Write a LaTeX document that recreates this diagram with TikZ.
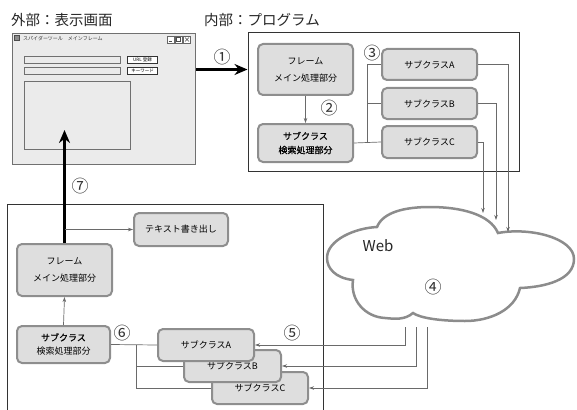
\documentclass[tikz,border=0pt]{standalone}
\usepackage{fontspec}
\setmainfont{Noto Sans CJK JP}
\newfontfamily\jpbold[FakeBold=0.6]{Noto Sans CJK JP}
\usetikzlibrary{arrows.meta}
\definecolor{nodefill}{HTML}{DEDEDE}
\definecolor{nodeedge}{HTML}{8E8E8E}
\definecolor{linegray}{HTML}{6A6A6A}
\definecolor{winfill}{HTML}{EBEBEB}
\definecolor{winedge}{HTML}{707070}
\begin{document}
\begin{tikzpicture}[x=1pt,y=-1pt,
 box/.style={draw=nodeedge, line width=2pt, fill=nodefill, rounded corners=5pt,
   font=\fontsize{9}{11}\selectfont, align=center, inner sep=0pt},
 conn/.style={draw=linegray, line width=0.7pt},
 arr/.style={conn, -{Stealth[length=5pt,width=3.5pt]}},
 big/.style={line width=3pt, draw=black, -{Stealth[length=13pt,width=11pt]}},
 num/.style={font=\fontsize{17}{17}\selectfont, inner sep=0pt, text=black!80},
 ttl/.style={font=\fontsize{14.5}{15}\selectfont, inner sep=0pt, anchor=west, text=black!85},
 fld/.style={draw=winedge, line width=0.7pt, fill=winfill, inner sep=0pt},
 btn/.style={draw=black!80, line width=0.8pt, fill=white, inner sep=0pt, font=\fontsize{4.5}{5}\selectfont},
]
\useasboundingbox (0,0) rectangle (577,409);

% titles
\node[ttl] (tOut) at (11,20) {外部：表示画面};
\node[ttl] (tIn) at (204,20) {内部：プログラム};

% window
\node[draw=winedge, line width=1.5pt, fill=winfill, minimum width=183pt, minimum height=131pt, inner sep=0pt] (win) at (104,99) {};
\node[draw=black!70, fill=black!45, minimum width=5pt, minimum height=5pt, inner sep=0pt] (wicon) at (17,38) {};
\node[font=\fontsize{5}{5}\selectfont, anchor=west, inner sep=0pt, text=black!80] (wtitle) at (23,38.5) {スパイダーツール　メインフレーム};
\node[draw=black!60, fill=white, minimum width=7pt, minimum height=7pt, inner sep=0pt] (bmin) at (170.5,39.5) {};
\node[draw=black!60, fill=white, minimum width=7pt, minimum height=7pt, inner sep=0pt] (bmax) at (178.5,39.5) {};
\node[draw=black!60, fill=white, minimum width=7pt, minimum height=7pt, inner sep=0pt] (bcls) at (187,39.5) {};
\draw[black!70, line width=0.6pt] ([xshift=-2pt,yshift=-2pt]bmin.center) -- ([xshift=1pt,yshift=-2pt]bmin.center);
\draw[black!70, line width=0.5pt] ([xshift=-2pt,yshift=-2pt]bmax.center) rectangle ([xshift=2pt,yshift=2pt]bmax.center);
\draw[black!70, line width=0.5pt] ([xshift=-2pt,yshift=-2pt]bcls.center) -- ([xshift=2pt,yshift=2pt]bcls.center)
  ([xshift=-2pt,yshift=2pt]bcls.center) -- ([xshift=2pt,yshift=-2pt]bcls.center);
\node[fld, minimum width=96pt, minimum height=6.5pt] (f1) at (72,60) {};
\node[fld, minimum width=96pt, minimum height=6.5pt] (f2) at (72,71) {};
\node[btn, minimum width=30pt, minimum height=7.5pt] (b1) at (142.5,60) {URL 登録};
\node[btn, minimum width=30pt, minimum height=7.5pt] (b2) at (142.5,71) {キーワード};
\node[fld, minimum width=106pt, minimum height=68pt] (lst) at (77,115) {};

% program box
\node[draw=black!80, line width=1pt, minimum width=271pt, minimum height=138pt, inner sep=0pt] (prog) at (383.5,102) {};

\node[box, minimum width=95pt, minimum height=51pt] (frameTop) at (305.5,69.5) {フレーム\\[6pt]メイン処理部分};
\node[box, minimum width=95pt, minimum height=38pt] (searchTop) at (305.5,143) {\jpbold サブクラス\\[3pt]\jpbold 検索処理部分};
\node[box, minimum width=95pt, minimum height=31pt] (subA) at (429.5,64.5) {サブクラスA};
\node[box, minimum width=95pt, minimum height=31pt] (subB) at (429.5,103.5) {サブクラスB};
\node[box, minimum width=95pt, minimum height=32pt] (subC) at (429.5,142) {サブクラスC};

\draw[big] (win.east |- frameTop) -- (prog.west |- frameTop);
\node[num] (n1) at (222,57) {①};

\draw[arr] (frameTop.south) -- (searchTop.north);
\node[num] (n2) at (329,108) {②};
\node[num] (n3) at (372,53) {③};

\coordinate (jt) at (367,143);
\draw[conn] (searchTop.east) -- (subC.west);
\draw[conn] (jt) |- (subA.west);
\draw[conn] (jt |- subB) -- (subB.west);

% cloud
\draw[draw=black!45, line width=2.5pt, fill=white]
 (377,227) .. controls (383,212) and (405,207) .. (430,207)
 .. controls (460,207) and (490,214) .. (498,233)
 .. controls (530,227) and (574,238) .. (574,259)
 .. controls (574,280) and (545,287) .. (520,288)
 .. controls (515,310) and (490,321) .. (465,321)
 .. controls (440,321) and (420,318) .. (413,313)
 .. controls (405,320) and (395,319) .. (385,318)
 .. controls (365,317) and (350,300) .. (353,280)
 .. controls (335,278) and (327,268) .. (327,258)
 .. controls (327,240) and (355,228) .. (377,227) -- cycle;
\node[font=\fontsize{15}{15}\selectfont, inner sep=0pt, text=black!85] (web) at (378,246) {Web};
\node[num] (n4) at (433,287) {④};

\coordinate (wa) at (508,232);
\coordinate (wb) at (496,220);
\coordinate (wc) at (483,213);
\draw[arr] (subA.east) -| (wa);
\draw[arr] (subB.east) -| (wb);
\draw[arr] (subC.east) -| (wc);

% lower box
\draw[black!80, line width=1pt] (7,410) -- (7,204) -- (323,204) -- (323,410);

\node[box, minimum width=94pt, minimum height=33pt] (textOut) at (181,229.5) {テキスト書き出し};
\node[box, minimum width=95pt, minimum height=52pt] (frameBot) at (64.5,270) {フレーム\\[6pt]メイン処理部分};
\node[box, minimum width=93pt, minimum height=37pt] (searchBot) at (63.5,344.5) {\jpbold サブクラス\\[3pt]検索処理部分};

\coordinate (w7) at (64.5,130);
\draw[big] (frameBot.north) -- (w7);
\node[num] (n7) at (80,186) {⑦};
\draw[arr] (frameBot.north |- textOut) -- (textOut.west);
\draw[arr] (searchBot.north) -- (frameBot.south);
\node[num] (n6) at (122,333) {⑥};
\node[num] (n5) at (292,333) {⑤};

\node[box, minimum width=96pt, minimum height=32pt] (lsubC) at (260,388) {サブクラスC};
\node[box, minimum width=97pt, minimum height=32pt] (lsubB) at (232.5,366) {サブクラスB};
\node[box, minimum width=96pt, minimum height=32pt] (lsubA) at (206,345) {サブクラスA};

\coordinate (k) at (136,345);
\draw[conn] (searchBot.east) -- (lsubA.west);
\draw[conn] (k) |- (lsubB.west);
\draw[conn] (k) |- (lsubC.west);

\coordinate (c1) at (405,327);
\coordinate (c2) at (416,327);
\coordinate (c3) at (427,327);
\draw[arr] (c1) |- (lsubA.east);
\draw[arr] (c2) |- (lsubB.east);
\draw[arr] (c3) |- (lsubC.east);
\end{tikzpicture}
\end{document}
